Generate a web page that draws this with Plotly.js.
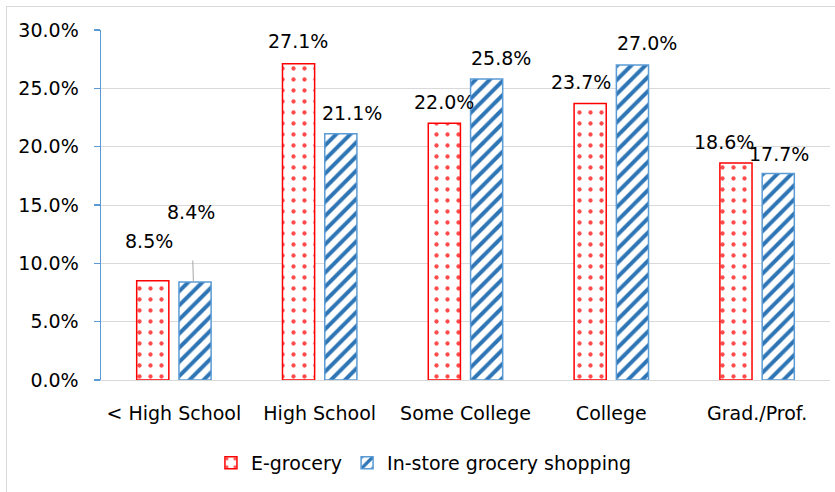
<!DOCTYPE html>
<html>
<head>
<meta charset="utf-8">
<script src="https://cdn.plot.ly/plotly-3.0.1.min.js"></script>
<style>
  html, body { margin: 0; padding: 0; background: #ffffff; }
  #frame { position: absolute; left: 6px; top: 6px; width: 900px; height: 600px; border: 1px solid #d9d9d9; pointer-events: none; }
  #chart { position: absolute; left: 0; top: 0; width: 835px; height: 492px; }
</style>
</head>
<body>
<div id="frame"></div>
<div id="chart"></div>
<script>
const categories = ["< High School", "High School", "Some College", "College", "Grad./Prof."];
const eGrocery = [8.5, 27.1, 22.0, 23.7, 18.6];
const inStore = [8.4, 21.1, 25.8, 27.0, 17.7];
const seriesNames = ["E-grocery", "In-store grocery shopping"];
const yTicks = [0, 5, 10, 15, 20, 25, 30];

// label placement (style only)
const barOffset = 21.5;
const labelDxE = [-3, 0, 0, -9, -12];
const labelDyE = [40, 23, 21, 22, 21];
const labelDxI = [0, 11, 14, 14, 0];
const labelDyI = [0, 21, 21, 22, 20];

const fontFam = "'DejaVu Sans', sans-serif";
const fsz = 19;
const fmt = v => v.toFixed(1) + "%";

const traceE = {
  type: "bar",
  name: seriesNames[0],
  x: categories,
  y: eGrocery,
  marker: {
    color: "#ffffff",
    line: { color: "#ff0000", width: 1.5 },
    pattern: { shape: ".", fgcolor: "#ff4d4d", bgcolor: "#ffffff", size: 11, solidity: 0.12 }
  },
  hoverinfo: "skip"
};

const traceI = {
  type: "bar",
  name: seriesNames[1],
  x: categories,
  y: inStore,
  marker: {
    color: "#ffffff",
    line: { color: "#5b9bd5", width: 1.5 },
    pattern: { shape: "/", fgcolor: "#2e75b6", bgcolor: "#ffffff", size: 10, solidity: 0.4 }
  },
  hoverinfo: "skip"
};

const annotations = [];
categories.forEach((c, i) => {
  annotations.push({
    x: c, y: eGrocery[i], xref: "x", yref: "y",
    xshift: -barOffset + labelDxE[i], yshift: labelDyE[i],
    yanchor: "middle", xanchor: "center",
    text: fmt(eGrocery[i]), showarrow: false,
    font: { family: fontFam, size: fsz, color: "#000000" }
  });
  if (i === 0) {
    annotations.push({
      x: c, y: inStore[i], xref: "x", yref: "y",
      xshift: barOffset - 2,
      text: fmt(inStore[i]),
      showarrow: true, arrowhead: 0, arrowwidth: 1, arrowcolor: "#a6a6a6",
      ax: -2, ay: -70, startstandoff: 36,
      font: { family: fontFam, size: fsz, color: "#000000" }
    });
  } else {
    annotations.push({
      x: c, y: inStore[i], xref: "x", yref: "y",
      xshift: barOffset + labelDxI[i], yshift: labelDyI[i],
      yanchor: "middle", xanchor: "center",
      text: fmt(inStore[i]), showarrow: false,
      font: { family: fontFam, size: fsz, color: "#000000" }
    });
  }
});

const layout = {
  width: 835,
  height: 492,
  paper_bgcolor: "rgba(0,0,0,0)",
  plot_bgcolor: "rgba(0,0,0,0)",
  margin: { l: 101, r: 5, t: 30, b: 112 },
  barmode: "group",
  bargap: 0.42,
  bargroupgap: 0.24,
  showlegend: true,
  legend: {
    orientation: "h",
    x: 0.443, xanchor: "center",
    y: -0.237, yanchor: "middle",
    font: { family: fontFam, size: fsz, color: "#000000" },
    itemwidth: 30,
    traceorder: "normal"
  },
  xaxis: {
    type: "category",
    showline: true,
    linecolor: "#d9d9d9",
    linewidth: 1,
    ticks: "",
    ticklabelstandoff: 16,
    tickfont: { family: fontFam, size: fsz, color: "#000000" },
    showgrid: false,
    zeroline: false
  },
  yaxis: {
    range: [0, 30],
    tickvals: yTicks,
    ticktext: yTicks.map(fmt),
    showline: true,
    linecolor: "#5b9bd5",
    linewidth: 1.5,
    ticks: "outside",
    ticklen: 6,
    tickcolor: "#5b9bd5",
    tickwidth: 1.5,
    ticklabelstandoff: 11,
    tickfont: { family: fontFam, size: fsz, color: "#000000" },
    showgrid: true,
    gridcolor: "#d9d9d9",
    gridwidth: 1,
    zeroline: false
  },
  annotations: annotations
};

Plotly.newPlot("chart", [traceE, traceI], layout, { staticPlot: true, displayModeBar: false });
</script>
</body>
</html>
